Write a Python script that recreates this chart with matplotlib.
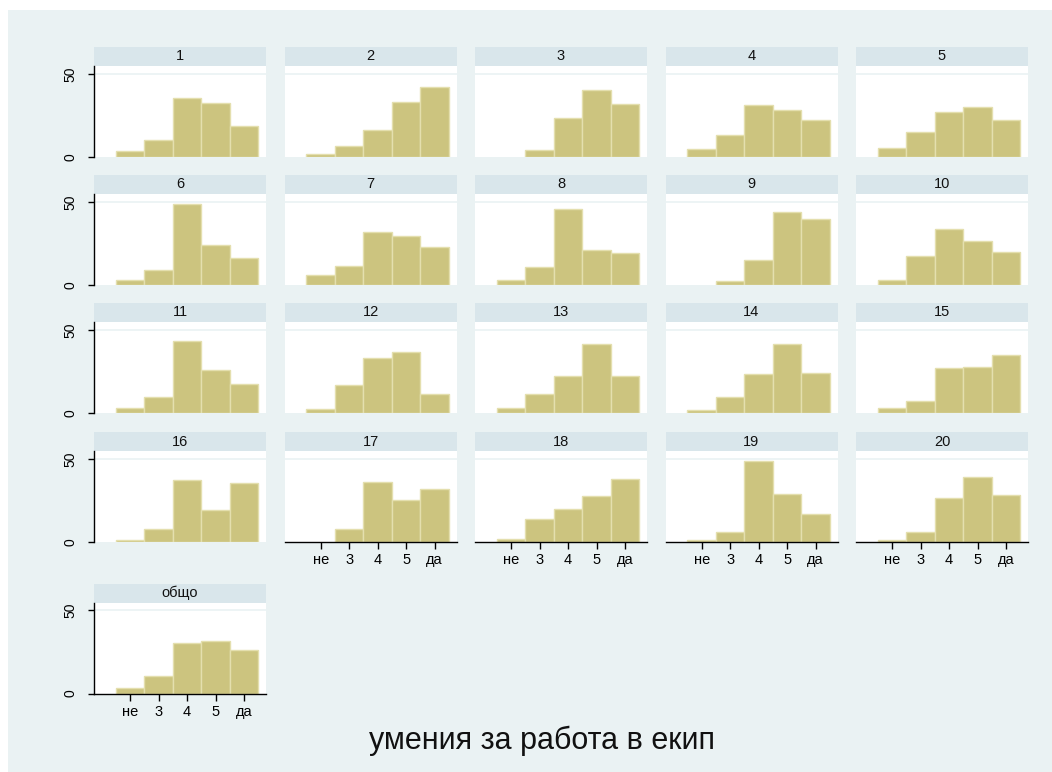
import matplotlib
matplotlib.use("Agg")
import matplotlib.pyplot as plt
from matplotlib.patches import Rectangle

plt.rcParams["font.family"] = ["Liberation Sans", "DejaVu Sans"]

# percent of answers per category, one list per panel
panel_names = [str(i) for i in range(1, 21)] + ["общо"]
categories = ["не", "3", "4", "5", "да"]
cat_pos = [1, 2, 3, 4, 5]

p1 = [3.8, 10.0, 35.7, 32.3, 18.5]
p2 = [1.6, 6.5, 16.5, 33.2, 42.2]
p3 = [0.0, 4.5, 23.2, 40.5, 31.8]
p4 = [5.0, 13.0, 31.5, 28.3, 22.2]
p5 = [5.4, 15.2, 27.3, 30.3, 22.1]
p6 = [3.0, 9.0, 48.8, 23.8, 16.3]
p7 = [5.9, 11.2, 31.9, 29.7, 22.6]
p8 = [3.0, 11.0, 45.9, 21.3, 19.5]
p9 = [0.0, 2.6, 15.2, 43.7, 39.6]
p10 = [3.0, 17.7, 33.5, 26.2, 20.1]
p11 = [2.8, 9.9, 43.1, 26.0, 17.5]
p12 = [2.2, 16.7, 33.0, 36.5, 11.6]
p13 = [2.8, 11.3, 22.2, 41.5, 22.2]
p14 = [1.6, 9.5, 23.3, 41.5, 24.1]
p15 = [2.8, 7.1, 27.2, 27.7, 35.2]
p16 = [1.2, 7.6, 37.1, 19.3, 35.5]
p17 = [0.0, 7.8, 36.0, 25.1, 31.7]
p18 = [2.0, 13.7, 20.1, 27.5, 38.1]
p19 = [1.4, 5.8, 48.8, 28.9, 16.7]
p20 = [1.4, 5.8, 26.3, 39.3, 28.1]
p_total = [3.2, 10.4, 30.7, 31.5, 26.1]

panel_values = [p1, p2, p3, p4, p5, p6, p7, p8, p9, p10,
                p11, p12, p13, p14, p15, p16, p17, p18, p19, p20, p_total]

W, H = 1052, 772
BG = "#EAF2F3"
STRIP = "#D9E6EB"
BAR = "#CCC47F"
BAR_EDGE = "#E4DFAE"

# layout in pixels
col_left = [94, 284.5, 475, 665.5, 856]
row_zero = [157, 285, 413, 542, 693.5]
panel_w, panel_h, strip_h = 172, 91, 19


def box(left, top, w, h):
    return [left / W, 1 - (top + h) / H, w / W, h / H]


fig = plt.figure(figsize=(W / 100, H / 100), dpi=100, facecolor="white")
fig.patches.append(Rectangle((8 / W, 0), 1 - 8 / W, 1 - 10 / H,
                             transform=fig.transFigure, facecolor=BG,
                             edgecolor="none", zorder=-10))

for k, (name, vals) in enumerate(zip(panel_names, panel_values)):
    r, c = divmod(k, 5)
    top = row_zero[r] - panel_h
    left = col_left[c]

    sax = fig.add_axes(box(left, top - strip_h, panel_w, strip_h))
    sax.set_facecolor(STRIP)
    sax.set_xticks([])
    sax.set_yticks([])
    for s in sax.spines.values():
        s.set_visible(False)
    sax.text(0.5, 0.5, name, ha="center", va="center", fontsize=10.5,
             color="#111111", transform=sax.transAxes)

    ax = fig.add_axes(box(left, top, panel_w, panel_h))
    ax.set_facecolor("white")
    ax.axhline(50, color=BG, lw=1.2, zorder=0)
    # skip empty categories so no edge line is drawn at zero
    xs = [x for x, v in zip(cat_pos, vals) if v > 0]
    hs = [v for v in vals if v > 0]
    ax.bar(xs, hs, width=1.0, color=BAR, edgecolor=BAR_EDGE,
           linewidth=1.0, zorder=2)
    ax.set_xlim(-0.27, 5.77)
    ax.set_ylim(0, 54.8)
    for s in ax.spines.values():
        s.set_visible(False)

    has_x = k >= 16
    has_y = c == 0
    if has_y:
        ax.spines["left"].set_visible(True)
        ax.spines["left"].set_linewidth(1.0)
        ax.set_yticks([0, 50])
        ax.set_yticklabels(["0", "50"], rotation=90, va="center",
                           fontsize=10)
        ax.tick_params(axis="y", length=4, width=1, pad=8)
    else:
        ax.set_yticks([])
    if has_x:
        ax.spines["bottom"].set_visible(True)
        ax.spines["bottom"].set_linewidth(1.0)
        ax.set_xticks(cat_pos)
        ax.set_xticklabels(categories, fontsize=10.5)
        ax.tick_params(axis="x", length=5, width=1, pad=3)
    else:
        ax.set_xticks([])

fig.text(542 / W, 1 - 741 / H, "умения за работа в екип", ha="center",
         va="center", fontsize=22, color="#111111")

plt.savefig("out.png", dpi=100, facecolor=fig.get_facecolor())
